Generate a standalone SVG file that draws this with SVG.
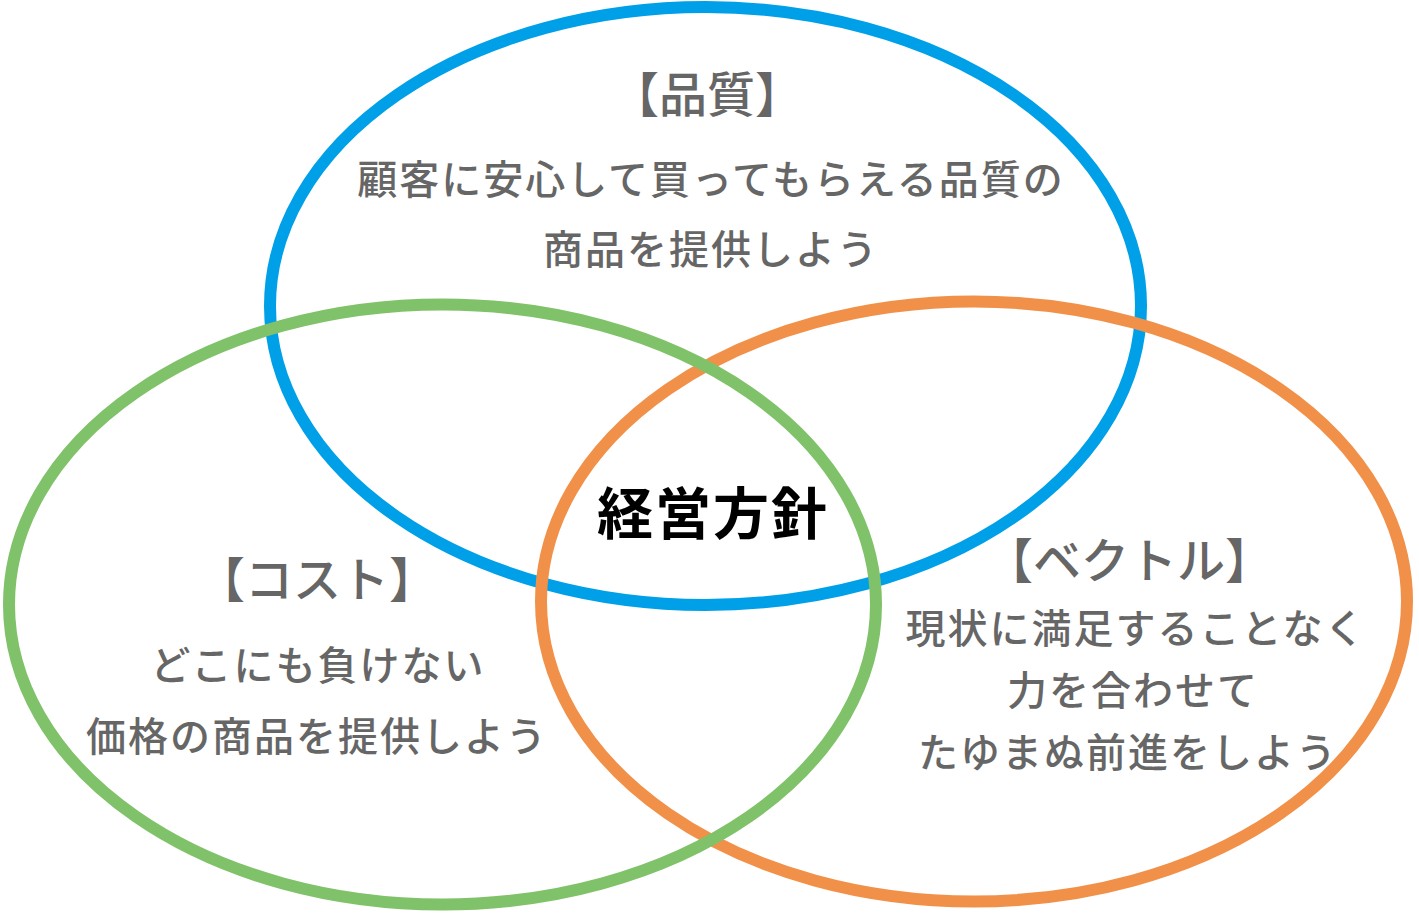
<svg xmlns="http://www.w3.org/2000/svg" width="1419" height="915" viewBox="0 0 1419 915">
<style>
.ring{fill:none;stroke-width:12}
.t{font-family:"Noto Sans CJK JP","Noto Sans CJK SC",sans-serif;font-size:40px;font-weight:500;fill:#666666;text-anchor:middle;letter-spacing:2px}
.h{font-family:"Noto Sans CJK JP","Noto Sans CJK SC",sans-serif;font-size:48px;font-weight:500;fill:#666666;text-anchor:middle}
.c{font-family:"Noto Sans CJK JP","Noto Sans CJK SC",sans-serif;font-size:56px;font-weight:bold;fill:#000000;text-anchor:middle;letter-spacing:2px}
</style>
<rect width="1419" height="915" fill="#ffffff"/>
<g id="quality">
<ellipse class="ring" cx="705.5" cy="306" rx="435.5" ry="299" stroke="#00A0E9"/>
</g>
<g id="vector">
<ellipse class="ring" cx="974" cy="601.5" rx="433" ry="300" stroke="#F19149"/>
</g>
<g id="cost">
<ellipse class="ring" cx="442.5" cy="604.5" rx="433.5" ry="300" stroke="#80C269"/>
</g>
<g id="quality-text">
<text class="h" x="707" y="112">【品質】</text>
<text class="t" x="711" y="194">顧客に安心して買ってもらえる品質の</text>
<text class="t" x="711" y="264">商品を提供しよう</text>
</g>
<g id="cost-text">
<text class="h" x="317" y="597">【コスト】</text>
<text class="t" x="318" y="680">どこにも負けない</text>
<text class="t" x="317" y="751">価格の商品を提供しよう</text>
</g>
<g id="vector-text">
<text class="h" x="1129" y="578">【ベクトル】</text>
<text class="t" x="1136" y="643">現状に満足することなく</text>
<text class="t" x="1133" y="705">力を合わせて</text>
<text class="t" x="1128" y="767">たゆまぬ前進をしよう</text>
</g>
<g id="center">
<text class="c" x="713" y="534">経営方針</text>
</g>
<g id="connectors"></g>
</svg>
